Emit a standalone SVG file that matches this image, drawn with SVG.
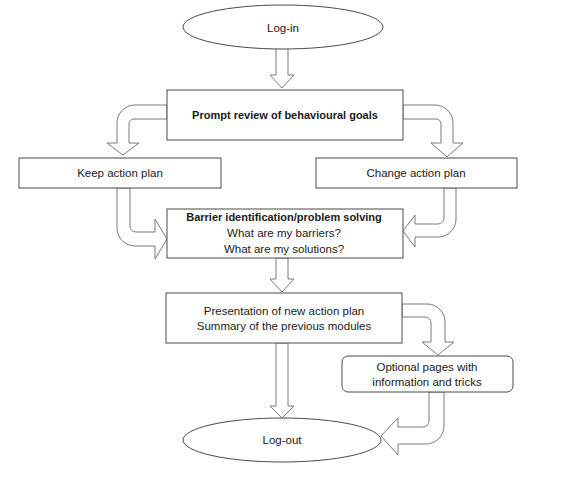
<svg xmlns="http://www.w3.org/2000/svg" width="566" height="479" viewBox="0 0 566 479">
<style>
.bg{fill:#ffffff}
.box{fill:#ffffff;stroke:#4a4a4a;stroke-width:1}
.arr{fill:#ffffff;stroke:#7a7a7a;stroke-width:1;stroke-linejoin:miter}
text{font-family:"Liberation Sans",Arial,sans-serif;font-size:11.5px;fill:#1a1a1a;text-anchor:middle}
.b{font-weight:bold;font-size:11px}
</style>
<rect class="bg" x="0" y="0" width="566" height="479"/>
<g id="connectors">
<path class="arr" d="M276,46 V75 H270 L282,88 L294,75 H288 V46 Z"/>
<path class="arr" d="M167,105 H135 A18,18 0 0 0 117,123 V143 H107 L123,155 L139,143 H129 V124 A5,5 0 0 1 134,119 H167 Z"/>
<path class="arr" d="M403,105 H435 A18,18 0 0 1 453,123 V143 H463 L447,157 L431,143 H441 V124 A5,5 0 0 0 436,119 H403 Z"/>
<path class="arr" d="M117,188 V228 A18,18 0 0 0 135,246 H155 V259 L167,239 L155,219 V232 H136 A6,6 0 0 1 130,226 V188 Z"/>
<path class="arr" d="M456,188 V219 A18,18 0 0 1 438,237 H415 V247 L403,231 L415,215 V224 H438 A6,6 0 0 0 444,218 V188 Z"/>
<path class="arr" d="M276,258 V279 H270 L282,292 L294,279 H288 V258 Z"/>
<path class="arr" d="M402,304 H427 A18,18 0 0 1 445,322 V342 H454 L438,355 L422,342 H431 V323 A6,6 0 0 0 425,317 H402 Z"/>
<path class="arr" d="M276,343 V406 H270 L282,418 L294,406 H288 V343 Z"/>
<path class="arr" d="M444,392 V426 A18,18 0 0 1 426,444 H398 V455 L381,436 L398,418 V427 H423 A6,6 0 0 0 429,421 V392 Z"/>
</g>
<g id="login">
<ellipse class="box" cx="283" cy="27" rx="100" ry="22"/>
<text x="283" y="32">Log-in</text>
</g>
<g id="prompt">
<rect class="box" x="167" y="90" width="236" height="50"/>
<text class="b" x="285" y="119">Prompt review of behavioural goals</text>
</g>
<g id="keep">
<rect class="box" x="19" y="158" width="202" height="30"/>
<text x="120" y="177">Keep action plan</text>
</g>
<g id="change">
<rect class="box" x="316" y="158" width="201" height="30"/>
<text x="416" y="177">Change action plan</text>
</g>
<g id="barrier">
<rect class="box" x="167" y="209" width="236" height="49"/>
<text class="b" x="284" y="221">Barrier identification/problem solving</text>
<text x="284" y="237">What are my barriers?</text>
<text x="284" y="253">What are my solutions?</text>
</g>
<g id="presentation">
<rect class="box" x="166" y="293" width="236" height="50"/>
<text x="284" y="315">Presentation of new action plan</text>
<text x="284" y="330">Summary of the previous modules</text>
</g>
<g id="optional">
<rect class="box" x="342" y="356" width="171" height="36" rx="6" ry="6"/>
<text x="427" y="371">Optional pages with</text>
<text x="427" y="386">information and tricks</text>
</g>
<g id="logout">
<ellipse class="box" cx="282" cy="440" rx="99" ry="22"/>
<text x="282" y="444">Log-out</text>
</g>
</svg>
